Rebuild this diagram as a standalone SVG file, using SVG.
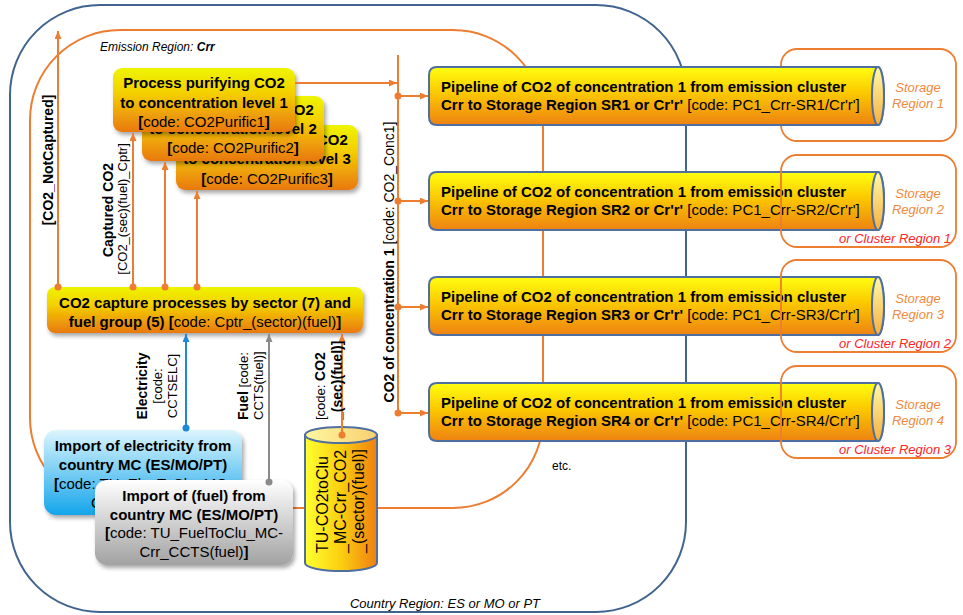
<svg xmlns="http://www.w3.org/2000/svg" width="963" height="615" viewBox="0 0 963 615">
<style>
.t{font-family:"Liberation Sans",Arial,sans-serif;fill:#000}
.f15{font-size:15px}
.f14{font-size:14px}
.f13{font-size:13px}
.f12{font-size:12px}
.b{font-weight:bold}
.n{font-weight:normal}
.it{font-style:italic}
.mid{text-anchor:middle}
.end{text-anchor:end}
.box{fill:url(#gBox);filter:url(#sh)}
.pipe{fill:url(#gPipe);stroke:#4f6fa0;stroke-width:2}
.cap{fill:url(#gCap);stroke:#4f6fa0;stroke-width:2}
.stor{fill:none;stroke:#ed7d31;stroke-width:1.8}
.st{font-family:"Liberation Sans",Arial,sans-serif;font-size:13px;font-style:italic;fill:#f08a3c;text-anchor:middle}
.cl{font-family:"Liberation Sans",Arial,sans-serif;font-size:13px;font-style:italic;fill:#ff2424;text-anchor:end}
.co{fill:none;stroke:#ed7d31;stroke-width:2}
.dot{fill:#ed7d31}
</style>
<defs>
<linearGradient id="gBox" x1="0" y1="0" x2="0" y2="1">
<stop offset="0" stop-color="#eef500"/><stop offset="0.4" stop-color="#f4cf00"/><stop offset="1" stop-color="#e9780f"/>
</linearGradient>
<linearGradient id="gPipe" x1="0" y1="0" x2="0" y2="1">
<stop offset="0" stop-color="#ffff10"/><stop offset="0.45" stop-color="#fbc800"/><stop offset="1" stop-color="#ee8212"/>
</linearGradient>
<linearGradient id="gCap" x1="0" y1="0" x2="0" y2="1"><stop offset="0" stop-color="#fff9a8"/><stop offset="1" stop-color="#f5b040"/></linearGradient>
<linearGradient id="gCyl" x1="0" y1="0" x2="1" y2="0"><stop offset="0" stop-color="#ffff30"/><stop offset="0.5" stop-color="#fbcf10"/><stop offset="1" stop-color="#ef7f10"/></linearGradient>
<linearGradient id="gCylTop" x1="0" y1="0" x2="1" y2="0"><stop offset="0" stop-color="#fff7a0"/><stop offset="1" stop-color="#f8d070"/></linearGradient>
<linearGradient id="gBlue" x1="0" y1="0" x2="0" y2="1"><stop offset="0" stop-color="#dcf5fd"/><stop offset="1" stop-color="#14a5ea"/></linearGradient>
<linearGradient id="gGray" x1="0" y1="0" x2="0" y2="1"><stop offset="0" stop-color="#ffffff"/><stop offset="1" stop-color="#a2a2a2"/></linearGradient>
<filter id="sh" x="-10%" y="-10%" width="130%" height="140%"><feDropShadow dx="2" dy="3" stdDeviation="2" flood-color="#000" flood-opacity="0.35"/></filter>
<marker id="ao" viewBox="0 0 8 7" refX="8" refY="3.5" markerWidth="8" markerHeight="7" markerUnits="userSpaceOnUse" orient="auto"><path d="M0,0 L8,3.5 L0,7 z" fill="#ed7d31"/></marker>
<marker id="ab" viewBox="0 0 8 7" refX="8" refY="3.5" markerWidth="8" markerHeight="7" markerUnits="userSpaceOnUse" orient="auto"><path d="M0,0 L8,3.5 L0,7 z" fill="#1e88d8"/></marker>
<marker id="ag" viewBox="0 0 8 7" refX="8" refY="3.5" markerWidth="8" markerHeight="7" markerUnits="userSpaceOnUse" orient="auto"><path d="M0,0 L8,3.5 L0,7 z" fill="#8a8a8a"/></marker>
<g id="pipeShape">
<path class="pipe" d="M437,0 H878 A6,29 0 0 1 878,58 H437 Q429,58 429,50 V8 Q429,0 437,0 Z"/>
<ellipse class="cap" cx="878" cy="29" rx="6" ry="29"/>
</g>
</defs>

<g id="country-region">
<rect x="10" y="5" width="676" height="607" rx="90" ry="90" fill="none" stroke="#41648f" stroke-width="2"/>
<text class="t f13 it" x="445" y="608" text-anchor="middle">Country Region: ES or MO or PT</text>
</g>

<g id="emission-region">
<rect x="30" y="30" width="513" height="478" rx="90" ry="90" fill="none" stroke="#ed7d31" stroke-width="2"/>
<text class="t f12 it" x="100" y="51">Emission Region: <tspan class="b">Crr</tspan></text>
</g>

<g id="storage-1">
<rect class="stor" x="781" y="49" width="175" height="92" rx="16"/>
<text class="st" x="918" y="92">Storage</text>
<text class="st" x="918" y="108">Region 1</text>
</g>

<g id="purific3">
<rect class="box" x="176" y="125" width="182" height="65" rx="9"/>
<text class="t f15 b mid" x="267" y="145">Process purifying CO2</text>
<text class="t f15 b mid" x="267" y="164">to concentration level 3</text>
<text class="t f15 mid" x="267" y="184"><tspan class="b">[</tspan>code: CO2Purific3<tspan class="b">]</tspan></text>
</g>
<g id="purific2">
<rect class="box" x="142" y="96" width="182" height="65" rx="9"/>
<text class="t f15 b mid" x="233" y="115">Process purifying CO2</text>
<text class="t f15 b mid" x="233" y="134">to concentration level 2</text>
<text class="t f15 mid" x="233" y="153"><tspan class="b">[</tspan>code: CO2Purific2<tspan class="b">]</tspan></text>
</g>
<g id="purific1">
<rect class="box" x="113" y="68" width="182" height="64" rx="9"/>
<text class="t f15 b mid" x="204" y="88">Process purifying CO2</text>
<text class="t f15 b mid" x="204" y="108">to concentration level 1</text>
<text class="t f15 mid" x="204" y="127"><tspan class="b">[</tspan>code: CO2Purific1<tspan class="b">]</tspan></text>
</g>

<g id="capture">
<rect class="box" x="47" y="287" width="316" height="46" rx="8"/>
<text class="t f15 b mid" x="205" y="308">CO2 capture processes by sector (7) and</text>
<text class="t f15 b mid" x="205" y="327">fuel group (5) [<tspan class="n">code: Cptr_(sector)(fuel)</tspan>]</text>
</g>

<g id="import-electricity">
<rect x="44" y="430" width="198" height="85" rx="12" fill="url(#gBlue)" filter="url(#sh)"/>
<text class="t f15 b mid" x="143" y="451">Import of electricity  from</text>
<text class="t f15 b mid" x="143" y="470">country MC (ES/MO/PT)</text>
<text class="t f15 mid" x="143" y="489"><tspan class="b">[</tspan>code: TU_ElecToClu_MC-</text>
<text class="t f15 mid" x="143" y="508">Crr_CCTSELC<tspan class="b">]</tspan></text>
</g>

<g id="import-fuel">
<rect x="95" y="480" width="198" height="85" rx="12" fill="url(#gGray)" filter="url(#sh)"/>
<text class="t f15 b mid" x="194" y="501">Import of (fuel) from</text>
<text class="t f15 b mid" x="194" y="520">country MC (ES/MO/PT)</text>
<text class="t f15 mid" x="194" y="538"><tspan class="b">[</tspan>code: TU_FuelToClu_MC-</text>
<text class="t f15 mid" x="194" y="557">Crr_CCTS(fuel)<tspan class="b">]</tspan></text>
</g>

<g id="tu-co2">
<path d="M305,435 V563 A36,8 0 0 0 377,563 V435 Z" fill="url(#gCyl)" stroke="#4f6fa0" stroke-width="2"/>
<ellipse cx="341" cy="435" rx="36" ry="8" fill="url(#gCylTop)" stroke="#4f6fa0" stroke-width="2"/>
<text class="t" font-size="16" transform="translate(328,553) rotate(-90)">TU-CO2toClu</text>
<text class="t" font-size="16" transform="translate(346,553) rotate(-90)">_MC-Crr_CO2</text>
<text class="t" font-size="16" transform="translate(364,553) rotate(-90)">_(sector)(fuel)]</text>
</g>

<g id="pipeline-1">
<use href="#pipeShape" y="67"/>
<text class="t f15 b" x="441" y="92">Pipeline of CO2 of concentration  1 from emission cluster</text>
<text class="t f15 b" x="441" y="110">Crr to Storage Region SR1 or Cr'r' <tspan class="n">[code: PC1_Crr-SR1/Cr'r']</tspan></text>
</g>
<g id="pipeline-2">
<use href="#pipeShape" y="172"/>
<text class="t f15 b" x="441" y="197">Pipeline of CO2 of concentration  1 from emission cluster</text>
<text class="t f15 b" x="441" y="215">Crr to Storage Region SR2 or Cr'r' <tspan class="n">[code: PC1_Crr-SR2/Cr'r']</tspan></text>
</g>
<g id="pipeline-3">
<use href="#pipeShape" y="277"/>
<text class="t f15 b" x="441" y="302">Pipeline of CO2 of concentration  1 from emission cluster</text>
<text class="t f15 b" x="441" y="320">Crr to Storage Region SR3 or Cr'r' <tspan class="n">[code: PC1_Crr-SR3/Cr'r']</tspan></text>
</g>
<g id="pipeline-4">
<use href="#pipeShape" y="383"/>
<text class="t f15 b" x="441" y="408">Pipeline of CO2 of concentration  1 from emission cluster</text>
<text class="t f15 b" x="441" y="426">Crr to Storage Region SR4 or Cr'r' <tspan class="n">[code: PC1_Crr-SR4/Cr'r']</tspan></text>
</g>

<g id="storage-2">
<rect class="stor" x="781" y="155" width="175" height="92" rx="16"/>
<text class="st" x="918" y="198">Storage</text>
<text class="st" x="918" y="214">Region 2</text>
<text class="cl" x="951" y="243">or Cluster Region 1</text>
</g>
<g id="storage-3">
<rect class="stor" x="781" y="260" width="175" height="92" rx="16"/>
<text class="st" x="918" y="303">Storage</text>
<text class="st" x="918" y="319">Region 3</text>
<text class="cl" x="951" y="348">or Cluster Region 2</text>
</g>
<g id="storage-4">
<rect class="stor" x="781" y="366" width="175" height="92" rx="16"/>
<text class="st" x="918" y="409">Storage</text>
<text class="st" x="918" y="425">Region 4</text>
<text class="cl" x="951" y="454">or Cluster Region 3</text>
</g>

<g id="connectors">
<path class="co" d="M58,287 V31" marker-end="url(#ao)"/>
<path class="co" d="M133,287 V133" marker-end="url(#ao)"/>
<path class="co" d="M165,287 V162" marker-end="url(#ao)"/>
<path class="co" d="M197,287 V191" marker-end="url(#ao)"/>
<circle class="dot" cx="58" cy="287" r="3.5"/>
<circle class="dot" cx="133" cy="287" r="3.5"/>
<circle class="dot" cx="165" cy="287" r="3.5"/>
<circle class="dot" cx="197" cy="287" r="3.5"/>
<path class="co" d="M295,83 H397" marker-end="url(#ao)"/>
<path class="co" d="M398,55 V413"/>
<path class="co" d="M398,96 H428" marker-end="url(#ao)"/>
<path class="co" d="M398,201 H428" marker-end="url(#ao)"/>
<path class="co" d="M398,307 H428" marker-end="url(#ao)"/>
<path class="co" d="M398,413 H428" marker-end="url(#ao)"/>
<circle class="dot" cx="398" cy="96" r="3.5"/>
<circle class="dot" cx="398" cy="201" r="3.5"/>
<circle class="dot" cx="398" cy="307" r="3.5"/>
<circle class="dot" cx="398" cy="413" r="3.5"/>
<path d="M186,428 V334" fill="none" stroke="#1e88d8" stroke-width="2" marker-end="url(#ab)"/>
<circle cx="186" cy="428" r="3.5" fill="#1e88d8"/>
<path d="M269,482 V334" fill="none" stroke="#8a8a8a" stroke-width="2" marker-end="url(#ag)"/>
<circle cx="269" cy="482" r="3.5" fill="#8a8a8a"/>
<path class="co" d="M342,435 V334" marker-end="url(#ao)"/>
<circle class="dot" cx="342" cy="435" r="3.5"/>
</g>

<g id="labels">
<text class="t f14 b mid" transform="translate(53,160) rotate(-90)">[CO2_NotCaptured]</text>
<text class="t f14 b mid" transform="translate(113,210) rotate(-90)">Captured CO2</text>
<text class="t f13 mid" transform="translate(127,209) rotate(-90)">[CO2_(sec)(fuel)_Cptr]</text>
<text class="t f14 b mid" transform="translate(147,386) rotate(-90)">Electricity</text>
<text class="t f13 mid" transform="translate(162,386) rotate(-90)">[code:</text>
<text class="t f13 mid" transform="translate(177,386) rotate(-90)">CCTSELC]</text>
<text class="t f13" transform="translate(248,420) rotate(-90)"><tspan class="b" font-size="14">Fuel</tspan> [code:</text>
<text class="t f13" transform="translate(263,420) rotate(-90)">CCTS(fuel)]</text>
<text class="t f13" transform="translate(325,420) rotate(-90)">[code: <tspan class="b" font-size="14">CO2</tspan></text>
<text class="t f14 b" transform="translate(342,420) rotate(-90)">_(sec)(fuel)]</text>
<text class="t f14 mid" transform="translate(394,262) rotate(-90)"><tspan class="b">CO2 of concentration 1</tspan> [code: CO2_Conc1]</text>
<text class="t f12" x="552" y="470">etc.</text>
</g>
</svg>
